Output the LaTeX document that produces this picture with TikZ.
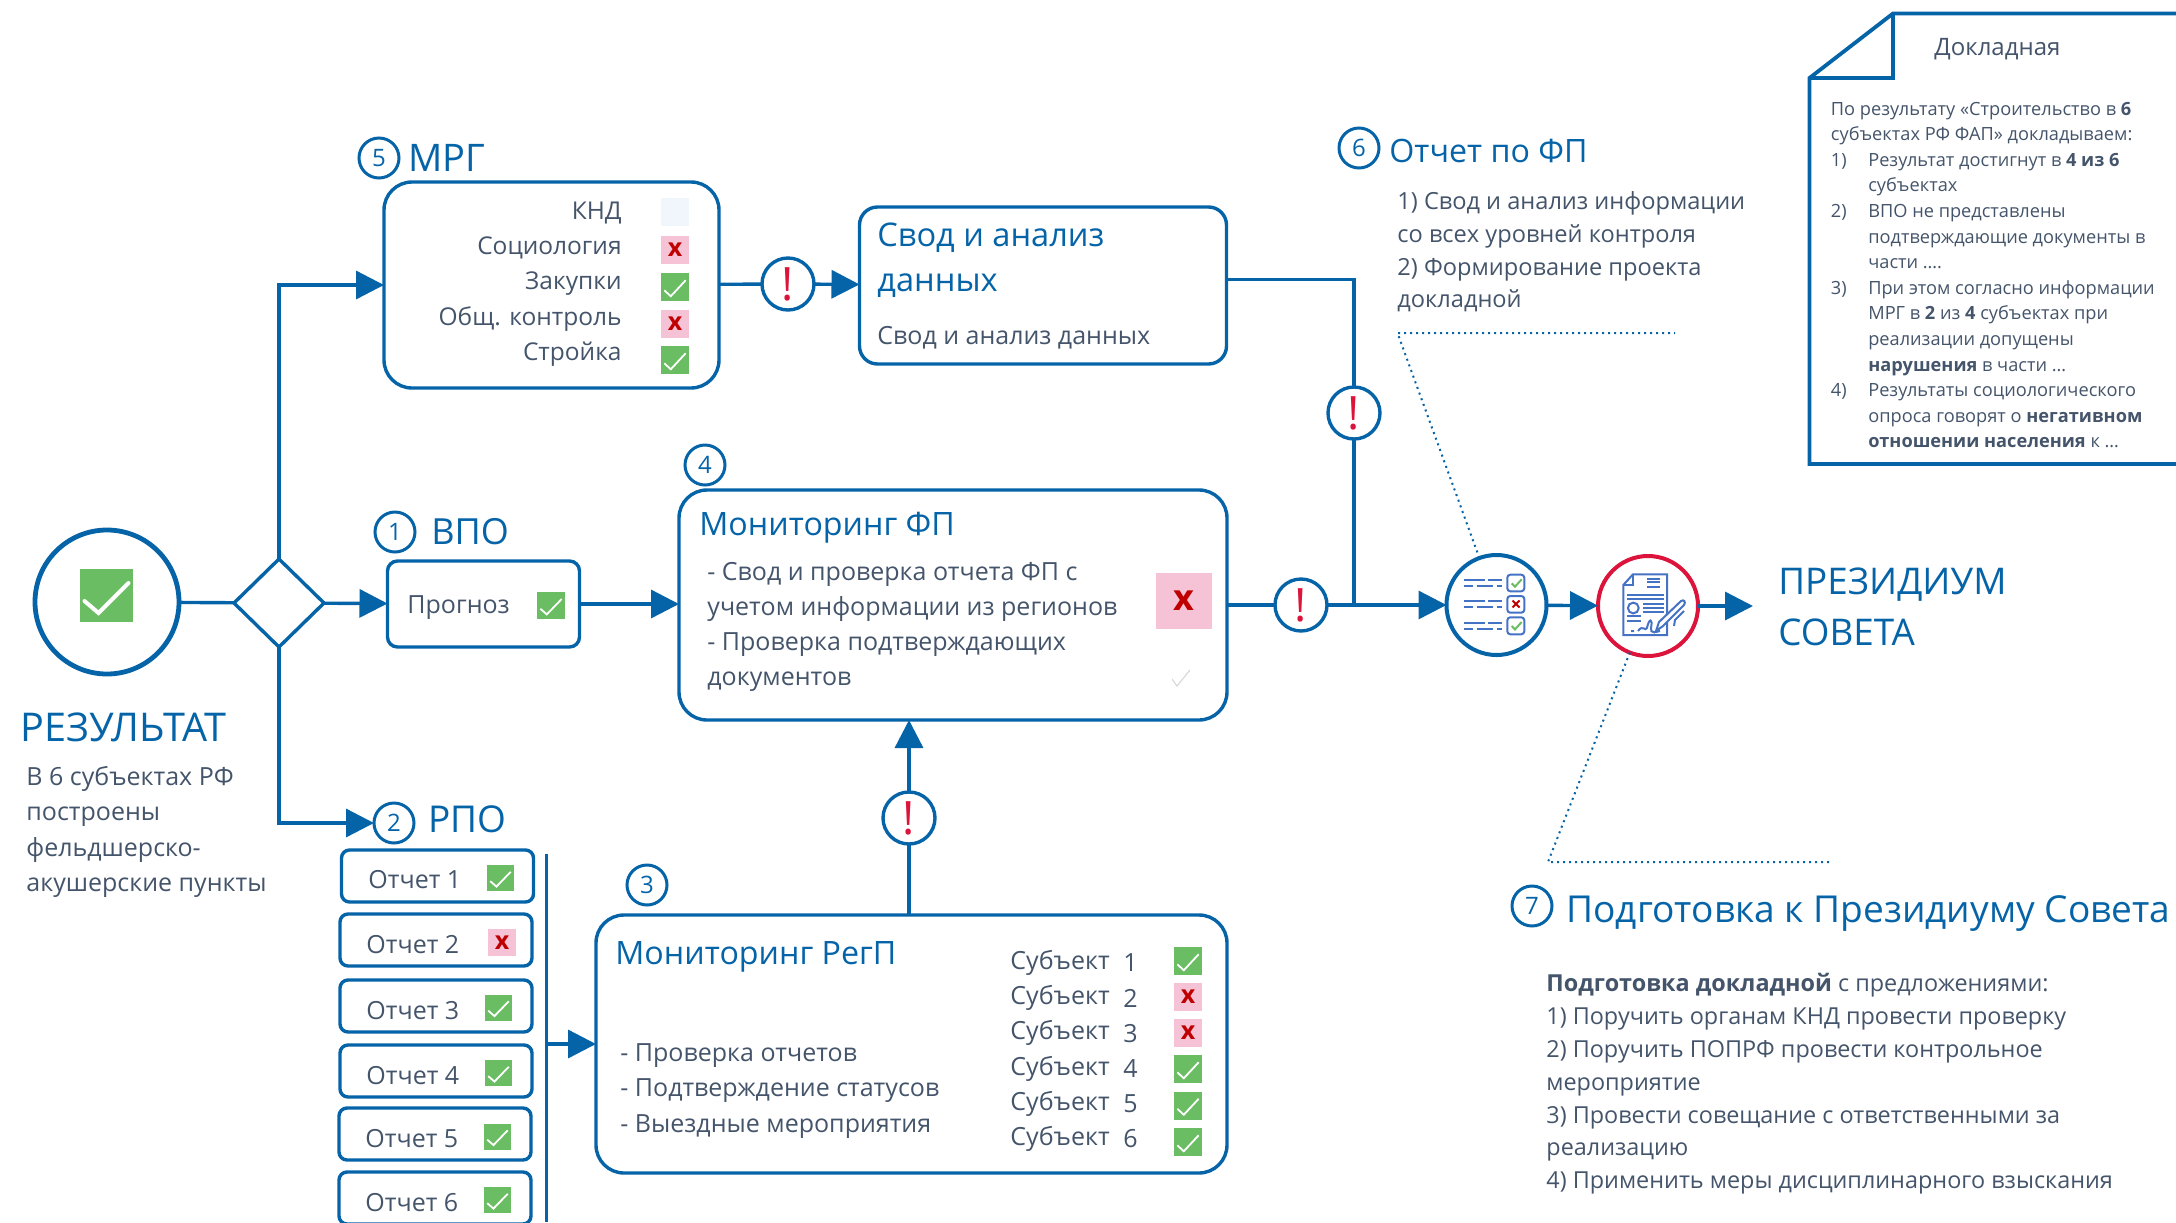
\documentclass[tikz,border=0pt]{standalone}
\usepackage{fontspec}
\setmainfont{Open Sans}
\usetikzlibrary{shapes.geometric, arrows.meta, positioning, calc}
\definecolor{mainblue}{HTML}{0563A8}
\definecolor{textgray}{HTML}{44546A}
\definecolor{okgreen}{HTML}{6ABD62}
\definecolor{badpink}{HTML}{F5C3D5}
\definecolor{badred}{HTML}{C00000}
\definecolor{alertred}{HTML}{DC143C}
\definecolor{iconblue}{HTML}{4472C4}
\definecolor{palesq}{HTML}{F1F6FC}
\newcommand{\dnum}[1]{\makebox[18.7pt][l]{#1}}
\tikzset{
  line/.style={draw=mainblue, line width=1.7pt},
  flow/.style={line, -{Triangle[length=14pt, width=14pt]}},
  dotline/.style={draw=mainblue, line width=1pt, dotted},
  box/.style={rectangle, rounded corners=#1, draw=mainblue, line width=1.7pt, outer sep=0pt, inner sep=0pt},
  title/.style={text=mainblue, anchor=west, inner sep=0pt, font=\fontsize{16.1}{20}\selectfont},
  bigtitle/.style={text=mainblue, anchor=west, inner sep=0pt, align=left, font=\fontsize{18}{22}\selectfont},
  body/.style={text=textgray, anchor=west, inner sep=0pt, align=left, yshift=-2pt, font=\fontsize{12.5}{17.6}\selectfont},
  num/.style={circle, draw=mainblue, line width=1.5pt, text=mainblue, minimum size=20pt, inner sep=0pt, outer sep=0pt, font=\fontsize{12}{14}\selectfont},
  alert/.style={circle, draw=mainblue, line width=1.7pt, text=alertred, minimum size=26pt, inner sep=0pt, outer sep=0pt, font=\fontsize{23}{26}\selectfont},
  okmark/.style 2 args={rectangle, fill=okgreen, minimum width=#1, minimum height=#2, inner sep=0pt,
    path picture={\draw[white, line width=0.9pt]
      ([shift={(-0.38*#1,-0.12*#2)}]path picture bounding box.center) --
      ([shift={(-0.15*#1,-0.33*#2)}]path picture bounding box.center) --
      ([shift={(0.38*#1,0.24*#2)}]path picture bounding box.center);}},
  badmark/.style 2 args={rectangle, fill=badpink, minimum width=#1, minimum height=#2, inner sep=0pt, text=badred, font=\fontsize{12.5}{12}\selectfont\bfseries},
  icon/.style={draw=iconblue, line width=1pt},
}
\begin{document}
\begin{tikzpicture}[x=0.5pt, y=-0.5pt]
\clip (0,0) rectangle (2176,1222);

% Result
\node[circle, draw=mainblue, line width=2.4pt, minimum size=72pt, inner sep=0pt, outer sep=0pt] (res) at (107,602) {};
\node[okmark={26.5pt}{26.5pt}, path picture={\draw[white, line width=2pt, line cap=round]
  ([shift={(-11pt,-3pt)}]path picture bounding box.center) --
  ([shift={(-4pt,-9pt)}]path picture bounding box.center) --
  ([shift={(11pt,6pt)}]path picture bounding box.center);}] (resok) at (106.5,595) {};
\node[diamond, draw=mainblue, line width=1.7pt, minimum width=45pt, minimum height=44pt, inner sep=0pt, outer sep=0pt] (gate) at (279,603) {};
\node[text=mainblue, anchor=west, inner sep=0pt, font=\fontsize{19.8}{24}\selectfont] (restitle) at (20,727) {РЕЗУЛЬТАТ};
\node[body] (restext) at (26,828) {В 6 субъектах РФ\\построены\\фельдшерско-\\акушерские пункты};
\draw[line] (res) -- (gate);

% VPO
\node[num] (n1) at (395,532) {1};
\node[title, font=\fontsize{18}{20}\selectfont] (vpo) at (431,532) {ВПО};
\node[box=5pt, minimum width=96pt, minimum height=43pt] (prog) at (483.5,604) {};
\node[body] (progtxt) at (407,604) {Прогноз};
\node[okmark={14pt}{13.5pt}] (progok) at (551,605.5) {};
\draw[flow] (gate) -- (prog);

% RPO
\node[num] (n2) at (394,823) {2};
\node[title, font=\fontsize{18.5}{20}\selectfont] (rpo) at (428,819) {РПО};
\draw[flow] (gate) |- (n2);
\node[box=4pt, minimum width=96pt, minimum height=26pt] (rep1) at (437.5,876) {};
\node[box=4pt, minimum width=96pt, minimum height=26pt] (rep2) at (436,940) {};
\node[box=4pt, minimum width=96pt, minimum height=26pt] (rep3) at (436,1006) {};
\node[box=4pt, minimum width=96pt, minimum height=26pt] (rep4) at (436,1071) {};
\node[box=4pt, minimum width=96pt, minimum height=26pt] (rep5) at (435,1134) {};
\node[box=4pt, minimum width=96pt, minimum height=26pt] (rep6) at (435,1198) {};
\node[body] (rep1t) at (368,876) {Отчет 1};
\node[body] (rep2t) at (366,941) {Отчет 2};
\node[body] (rep3t) at (366,1007) {Отчет 3};
\node[body] (rep4t) at (366,1072) {Отчет 4};
\node[body] (rep5t) at (365,1135) {Отчет 5};
\node[body] (rep6t) at (365,1199) {Отчет 6};
\node[okmark={13.5pt}{13pt}] (rep1m) at (500.5,878) {};
\node[badmark={14pt}{13.5pt}] (rep2m) at (502,942.5) {x};
\node[okmark={13.5pt}{13pt}] (rep3m) at (498.5,1007.5) {};
\node[okmark={13.5pt}{13pt}] (rep4m) at (498.5,1073) {};
\node[okmark={13.5pt}{13pt}] (rep5m) at (497.5,1136.5) {};
\node[okmark={13.5pt}{13pt}] (rep6m) at (497.5,1200) {};
\coordinate (bart) at (546.5,854);
\coordinate (barb) at (546.5,1222);
\draw[line] (bart) -- (barb);

% Monitoring of regional projects
\node[num] (n3) at (647,885) {3};
\node[box=14pt, minimum width=315.5pt, minimum height=129pt] (regp) at (911.5,1044) {};
\node[title] (regtitle) at (615,957) {Мониторинг РегП};
\node[body] (regtxt) at (620,1087) {- Проверка отчетов\\- Подтверждение статусов\\- Выездные мероприятия};
\node[body, font=\fontsize{12.5}{17.6}\selectfont] (subj) at (1010,1047) {Субъект\\Субъект\\Субъект\\Субъект\\Субъект\\Субъект};
\node[body, font=\fontsize{12.5}{17.6}\selectfont] (subjn) at (1123,1047) {1\\2\\3\\4\\5\\6};
\node[okmark={14pt}{14pt}] (sub1) at (1188,961) {};
\node[badmark={14pt}{14pt}] (sub2) at (1188,997) {x};
\node[badmark={14pt}{14pt}] (sub3) at (1188,1032.5) {x};
\node[okmark={14pt}{14pt}] (sub4) at (1188,1069) {};
\node[okmark={14pt}{14pt}] (sub5) at (1188,1105.5) {};
\node[okmark={14pt}{14pt}] (sub6) at (1188,1142) {};
\draw[flow] (bart |- regp.west) -- (regp.west);

% Monitoring of the federal project
\node[num] (n4) at (705,465) {4};
\node[box=14pt, minimum width=274pt, minimum height=115pt] (fp) at (953,605) {};
\node[title] (fptitle) at (699,528) {Мониторинг ФП};
\node[body] (fptxt) at (707,623) {- Свод и проверка отчета ФП с\\учетом информации из регионов\\- Проверка подтверждающих\\документов};
\node[badmark={28pt}{28pt}, font=\fontsize{18}{18}\selectfont\bfseries] (fpbad) at (1184,601) {x\hspace{4pt}};
\node[minimum width=9pt, minimum height=9pt, inner sep=0pt, path picture={\draw[black!15, line width=0.6pt]
  ([shift={(-4.5pt,-0.5pt)}]path picture bounding box.center) --
  ([shift={(-2pt,-4pt)}]path picture bounding box.center) --
  ([shift={(4.5pt,4pt)}]path picture bounding box.center);}] (fpok) at (1181,678) {};
\draw[flow] (prog) -- (fp.west |- prog);
\node[alert] (alreg) at (909,818) {!};
\draw[line] (alreg |- regp.north) -- (alreg);
\draw[flow] (alreg) -- (alreg |- fp.south);

% MRG
\node[num] (n5) at (379,158) {5};
\node[title, font=\fontsize{19}{20}\selectfont] (mrg) at (408,158) {МРГ};
\node[box=14pt, minimum width=167.5pt, minimum height=103pt] (mrgbox) at (551.5,285) {};
\node[body, anchor=east, align=right, font=\fontsize{12.25}{17.6}\selectfont] (mrgtxt) at (622,280) {КНД\\Социология\\Закупки\\Общ. контроль\\Стройка};
\node[rectangle, fill=palesq, minimum width=14pt, minimum height=14pt, inner sep=0pt] (mrg1) at (675,212) {};
\node[badmark={14pt}{14pt}] (mrg2) at (675,250) {x};
\node[okmark={14pt}{14pt}] (mrg3) at (675,287) {};
\node[badmark={14pt}{14pt}] (mrg4) at (675,324) {x};
\node[okmark={14pt}{14pt}] (mrg5) at (675,360) {};
\draw[flow] (gate) |- (mrgbox);

% Summary box
\node[box=9pt, minimum width=183.5pt, minimum height=78.5pt] (svod) at (1043,285.5) {};
\node[bigtitle, font=\fontsize{16.3}{22.5}\selectfont] (svodtitle) at (877,260) {Свод и анализ\\данных};
\node[body] (svodtxt) at (877,334) {Свод и анализ данных};
\node[alert] (almrg) at (788,284) {!};
\draw[line] (mrgbox) -- (almrg);
\draw[flow] (almrg) -- (svod);

% Junction on the way to the check
\node[alert] (alsvod) at (1354,413) {!};
\node[alert] (alfp) at (1301,605) {!};
\node[circle, draw=mainblue, line width=2pt, minimum size=50pt, inner sep=0pt, outer sep=0pt] (chk) at (1496.5,605) {};
\node[circle, draw=alertred, line width=2pt, minimum size=50pt, inner sep=0pt, outer sep=0pt] (sign) at (1648,606) {};
\coordinate (jn) at (1354,605);
\draw[line] ([yshift=3pt]svod.east) -| (alsvod);
\draw[line] (alsvod) -- (jn);
\draw[line] (fp.east) -- (alfp);
\draw[flow] (alfp) -- (chk);
\draw[flow] (chk) -- (sign);

% Check list icon
\draw[icon] (1464,579.7) -- (1485,579.7) (1488,579.7) -- (1501.7,579.7);
\draw[icon] (1464,586) -- (1473,586) (1476.7,586) -- (1493.3,586) (1496.7,586) -- (1501.7,586);
\draw[icon] (1464,601) -- (1485,601) (1488,601) -- (1501.7,601);
\draw[icon] (1464,607.3) -- (1473,607.3) (1476.7,607.3) -- (1493.3,607.3) (1496.7,607.3) -- (1501.7,607.3);
\draw[icon] (1464,622.7) -- (1485,622.7) (1488,622.7) -- (1501.7,622.7);
\draw[icon] (1464,628.7) -- (1473,628.7) (1476.7,628.7) -- (1493.3,628.7) (1496.7,628.7) -- (1501.7,628.7);
\draw[icon, rounded corners=1.5pt] (1507.3,574.7) rectangle (1524.3,591.3);
\draw[icon, rounded corners=1.5pt] (1507.3,596) rectangle (1524.3,612.7);
\draw[icon, rounded corners=1.5pt] (1507.3,617.3) rectangle (1524.3,634.3);
\draw[okgreen, line width=1pt] (1511.7,583.3) -- (1515,586.7) -- (1521.7,579.3);
\draw[okgreen, line width=1pt] (1511.7,626) -- (1515,629.4) -- (1521.7,622);
\draw[badred, line width=1pt] (1512.5,600.5) -- (1519.5,607.5) (1519.5,600.5) -- (1512.5,607.5);

% Signed document icon
\draw[icon] (1633,574.3) -- (1667,574.3) -- (1667,635) -- (1623.3,635) -- (1623.3,585) -- cycle;
\draw[icon] (1633,574.3) -- (1633,585) -- (1623.3,585);
\draw[icon] (1647,578.5) -- (1659.5,578.5) (1647,582) -- (1659.5,582) (1647,586.5) -- (1659.5,586.5);
\draw[icon] (1626.5,594.5) -- (1663.5,594.5) (1626.5,598.5) -- (1663.5,598.5);
\draw[icon] (1633.3,608) circle (2.7pt);
\draw[icon] (1643,603.5) -- (1663.5,603.5) (1643,607.5) -- (1663.5,607.5) (1643,611.5) -- (1663.5,611.5);
\draw[icon] (1626.5,616) -- (1641,616) (1626.5,620.5) -- (1641,620.5);
\draw[icon] (1631,631) -- (1634,631) (1638,631) .. controls (1643,624) and (1645,632) .. (1647,628) .. controls (1649,618) and (1653,618) .. (1651,628) .. controls (1650,634) and (1656,632) .. (1660,631);
\draw[icon, fill=white] (1656,631) -- (1659,622) -- (1681,601) .. controls (1684,599) and (1686,602) .. (1684,605) -- (1663,626) -- cycle;
\draw[icon] (1684,611) -- (1675,620) -- (1674,626);

% Next steps
\node[text=mainblue, anchor=west, inner sep=0pt, align=left, font=\fontsize{18.4}{25.5}\selectfont] (prez) at (1778,607) {ПРЕЗИДИУМ\\СОВЕТА};
\coordinate (prezin) at (1753,606);
\draw[flow] (sign) -- (prezin);

% Report on the federal project
\node[num] (n6) at (1359,148) {6};
\node[title] (rep) at (1389,151) {Отчет по ФП};
\node[body, font=\fontsize{11.8}{16.4}\selectfont] (reptxt) at (1397,248) {1) Свод и анализ информации\\со всех уровней контроля\\2) Формирование проекта\\докладной};
\coordinate (dot1) at (1397.5,333);
\coordinate (dot1e) at (1675,333);
\draw[dotline] (chk) -- (dot1) -- (dot1e);

% Preparation
\node[num] (n7) at (1532,906) {7};
\node[title, font=\fontsize{18.55}{22}\selectfont] (prep) at (1566,914) {Подготовка к Президиуму Совета};
\node[body, font=\fontsize{11.7}{16.4}\selectfont] (preptxt) at (1546,1080) {\textbf{Подготовка докладной} с предложениями:\\1) Поручить органам КНД провести проверку\\2) Поручить ПОПРФ провести контрольное\\мероприятие\\3) Провести совещание с ответственными за\\реализацию\\4) Применить меры дисциплинарного взыскания};
\coordinate (dot2) at (1548,862);
\coordinate (dot2e) at (1833,862);
\draw[dotline] (sign) -- (dot2) -- (dot2e);

% Memo
\draw[draw=mainblue, line width=1.9pt] (2182,13.5) -- (1893,13.5) -- (1809.5,78) -- (1809.5,464) -- (2182,464);
\draw[draw=mainblue, line width=1.9pt] (1893,13.5) -- (1893,78) -- (1809.5,78);
\node[body, font=\fontsize{12}{14}\selectfont] (memot) at (1934,45) {Докладная};
\node[body, font=\fontsize{9.1}{12.8}\selectfont] (memotxt) at (1830.5,271) {По результату «Строительство в \textbf{6}\\субъектах РФ ФАП» докладываем:\\\dnum{1)}Результат достигнут в \textbf{4 из 6}\\\dnum{}субъектах\\\dnum{2)}ВПО не представлены\\\dnum{}подтверждающие документы в\\\dnum{}части ….\\\dnum{3)}При этом согласно информации\\\dnum{}МРГ в \textbf{2} из \textbf{4} субъектах при\\\dnum{}реализации допущены\\\dnum{}\textbf{нарушения} в части …\\\dnum{4)}Результаты социологического\\\dnum{}опроса говорят о \textbf{негативном}\\\dnum{}\textbf{отношении населения} к …};
\end{tikzpicture}
\end{document}
